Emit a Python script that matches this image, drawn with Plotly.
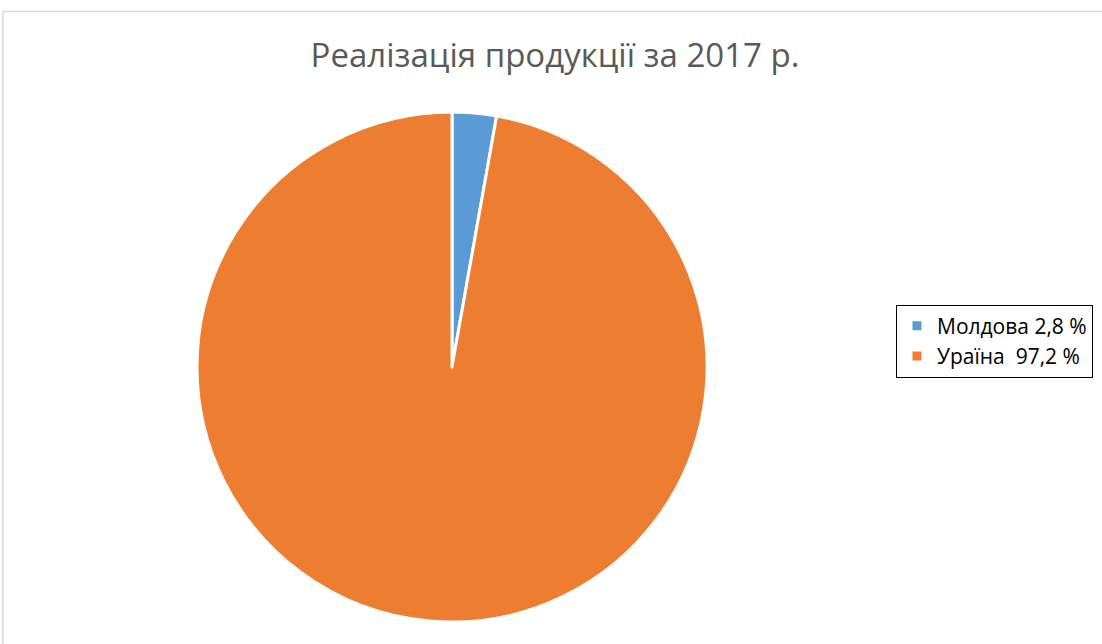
import plotly.graph_objects as go

labels = ["Молдова 2,8 %", "Ураїна  97,2 %"]
values = [2.8, 97.2]
colors = ["#5B9BD5", "#ED7D31"]
title_text = "Реалізація продукції за 2017 р."

fig = go.Figure(go.Pie(
    labels=labels,
    values=values,
    sort=False,
    direction="clockwise",
    rotation=0,
    marker=dict(colors=colors, line=dict(color="white", width=3)),
    textinfo="none",
    hoverinfo="label+percent",
    domain=dict(x=[197/1102, 707/1102], y=[22/644, 532/644]),
))

fig.update_layout(
    width=1102, height=644,
    margin=dict(l=0, r=0, t=0, b=0),
    paper_bgcolor="white",
    font=dict(family="Open Sans, Noto Sans, sans-serif"),
    title=dict(text=title_text, x=555/1102, xanchor="center", y=1 - 55/644, yanchor="middle",
               font=dict(size=33, color="#595959", family="Open Sans, Noto Sans, sans-serif")),
    legend=dict(x=896/1102, xanchor="left", y=1 - 341/644, yanchor="middle",
                bordercolor="black", borderwidth=1, bgcolor="white",
                font=dict(size=21, color="black")),
    shapes=[dict(type="rect", xref="paper", yref="paper", x0=3/1102, x1=1.05, y0=-0.05, y1=1 - 11.5/644,
                 line=dict(color="#D9D9D9", width=1.5), fillcolor="rgba(0,0,0,0)", layer="below")],
)

fig.write_html("out.html", config={"displayModeBar": False},
               post_script="document.body.style.margin='0';")
